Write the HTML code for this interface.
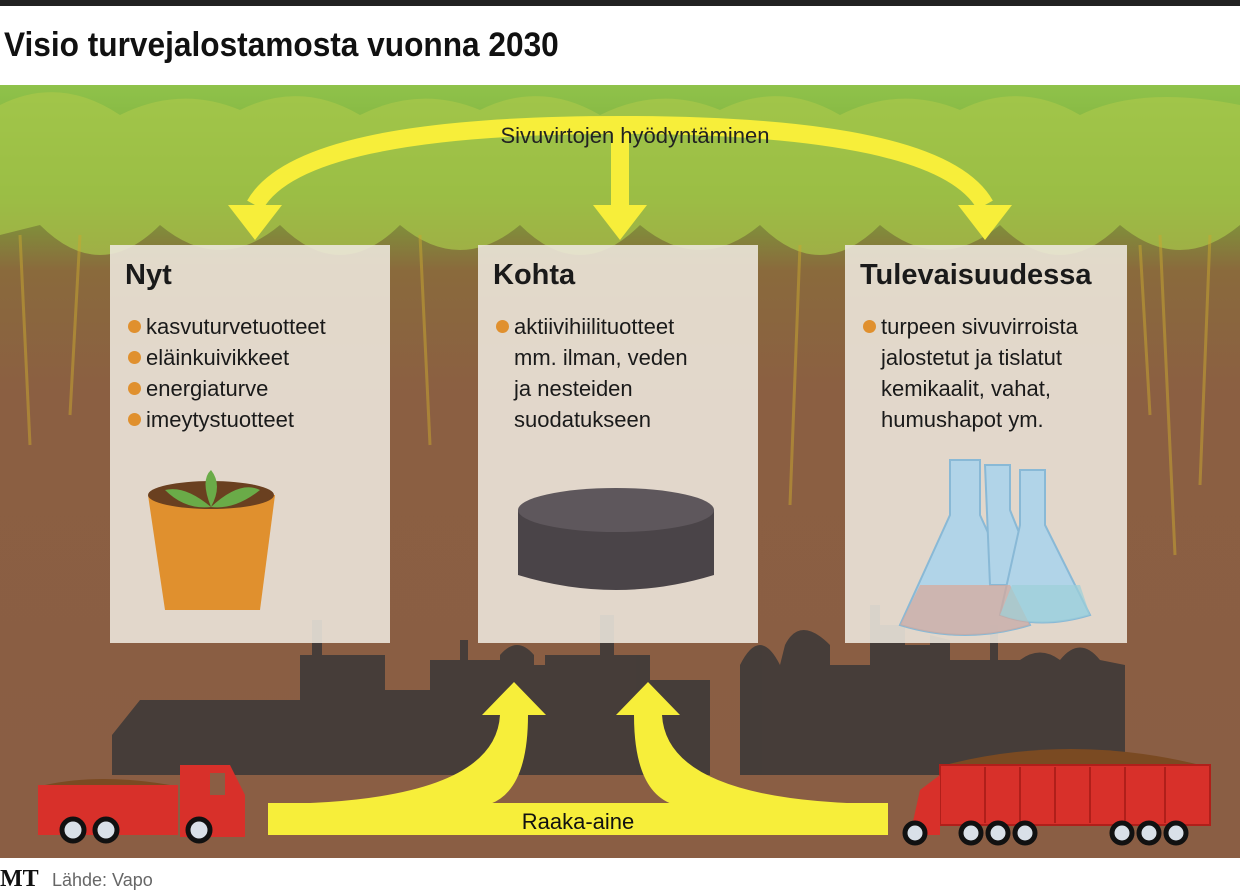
<!DOCTYPE html>
<html><head><meta charset="utf-8"><style>
body{margin:0;width:1240px;height:895px;overflow:hidden;background:#fff;font-family:"Liberation Sans","DejaVu Sans",sans-serif;position:relative}
.box{position:absolute;top:245px;height:398px;width:280px;background:rgba(238,232,222,0.88)}
.box h2{margin:0;position:absolute;left:15px;top:14px;font-size:29px;font-weight:bold;color:#1a1a1a}
.box ul{list-style:none;margin:0;padding:0;position:absolute;left:18px;top:66px;font-size:22px;line-height:31px;color:#1a1a1a}
.box li{position:relative;padding-left:18px}
.dot{position:absolute;left:0;top:9px;width:13px;height:13px;border-radius:50%;background:#e0902e}
</style></head><body>
<div style="position:absolute;left:0;top:0;width:1240px;height:6px;background:#222"></div>
<div style="position:absolute;left:4px;top:26px;font-size:34px;font-weight:bold;color:#111;transform:scaleX(0.93);transform-origin:left">Visio turvejalostamosta vuonna 2030</div>
<svg style="position:absolute;left:0;top:85px" width="1240" height="773">
<defs>
<linearGradient id="bg" x1="0" y1="0" x2="0" y2="1">
<stop offset="0" stop-color="#8fc24a"/><stop offset="0.14" stop-color="#7aa83a"/><stop offset="0.24" stop-color="#8a6a3c"/><stop offset="0.4" stop-color="#8b5f42"/><stop offset="1" stop-color="#8a5e44"/>
</linearGradient>
</defs>
<rect width="1240" height="773" fill="url(#bg)"/>
<g fill="#a9c84a" opacity="0.7">
<path d="M0 20 Q60 -10 120 30 Q180 0 240 25 Q300 -5 360 30 Q420 0 480 25 Q540 -5 600 30 Q660 0 720 25 Q780 -5 840 30 Q900 0 960 25 Q1020 -5 1080 30 Q1140 0 1240 20 L1240 140 Q1180 190 1120 140 Q1060 200 1000 140 Q940 190 880 140 Q820 200 760 140 Q700 190 640 140 Q580 200 520 140 Q460 190 400 140 Q340 200 280 140 Q220 190 160 140 Q100 200 40 140 L0 150Z"/>
</g>
<g stroke="#c9a830" stroke-width="3" opacity="0.5">
<line x1="20" y1="150" x2="30" y2="360"/><line x1="80" y1="150" x2="70" y2="330"/><line x1="420" y1="150" x2="430" y2="360"/><line x1="800" y1="160" x2="790" y2="420"/><line x1="1160" y1="150" x2="1175" y2="470"/><line x1="1210" y1="150" x2="1200" y2="400"/><line x1="1140" y1="160" x2="1150" y2="330"/>
</g>
<g fill="#3e3a38" opacity="0.9">
<path d="M112 690 L112 650 L140 615 L300 615 L300 570 L312 570 L312 535 L322 535 L322 570 L385 570 L385 605 L430 605 L430 575 L460 575 L460 555 L468 555 L468 575 L500 575 L500 570 Q517 550 534 570 L534 580 L545 580 L545 570 L600 570 L600 530 L614 530 L614 570 L650 570 L650 595 L710 595 L710 690 Z"/>
<path d="M740 690 L740 580 Q760 540 780 580 L785 560 Q800 530 830 560 L830 580 L870 580 L870 520 L880 520 L880 540 L905 540 L905 560 L930 560 L930 550 L950 555 L950 575 L990 575 L990 540 L998 540 L998 575 L1020 575 Q1040 560 1060 575 Q1080 550 1100 575 L1125 580 L1125 690 Z"/>
</g>
<g fill="none" stroke="#f7ee3a" stroke-width="18">
<path d="M255 120 Q300 40 620 40 Q940 40 985 120"/>
<path d="M620 40 L620 120"/>
</g>
<g fill="#f7ee3a">
<polygon points="228,120 282,120 255,155"/><polygon points="593,120 647,120 620,155"/><polygon points="958,120 1012,120 985,155"/>
</g>
<text x="635" y="58" font-size="22" fill="#222" text-anchor="middle" font-family="Liberation Sans">Sivuvirtojen hyödyntäminen</text>
<rect x="268" y="718" width="620" height="32" fill="#f7ee3a"/>
<path id="la" fill="#f7ee3a" d="M268 719 Q495 718 500 630 L482 630 L514 597 L546 630 L528 630 Q528 705 490 719 Z"/>
<path fill="#f7ee3a" transform="translate(1162,0) scale(-1,1)" d="M274 719 Q495 718 500 630 L482 630 L514 597 L546 630 L528 630 Q528 705 490 719 Z"/>
<text x="578" y="744" font-size="22" fill="#111" text-anchor="middle" font-family="Liberation Sans">Raaka-aine</text>
<path fill="#7a4a22" d="M45 700 Q100 688 170 700Z"/>
<rect x="38" y="700" width="140" height="50" fill="#d8302a"/>
<path fill="#d8302a" d="M180 680 L230 680 L245 710 L245 752 L180 752Z"/>
<rect x="210" y="688" width="15" height="22" fill="#8a5e44"/>
<g fill="#d9e0e8" stroke="#111" stroke-width="5"><circle cx="73" cy="745" r="11"/><circle cx="106" cy="745" r="11"/><circle cx="199" cy="745" r="11"/></g>
<path fill="#7a4a22" d="M945 680 Q1070 648 1200 680Z"/>
<rect x="940" y="680" width="270" height="60" fill="#d8302a" stroke="#b01f1a" stroke-width="2"/>
<path fill="#d8302a" d="M920 705 L940 690 L940 750 L910 750Z"/>
<g stroke="#b01f1a" stroke-width="2"><line x1="985" y1="682" x2="985" y2="738"/><line x1="1020" y1="682" x2="1020" y2="738"/><line x1="1055" y1="682" x2="1055" y2="738"/><line x1="1090" y1="682" x2="1090" y2="738"/><line x1="1125" y1="682" x2="1125" y2="738"/><line x1="1165" y1="682" x2="1165" y2="738"/></g>
<g fill="#d9e0e8" stroke="#111" stroke-width="5"><circle cx="915" cy="748" r="10"/><circle cx="971" cy="748" r="10"/><circle cx="998" cy="748" r="10"/><circle cx="1025" cy="748" r="10"/><circle cx="1122" cy="748" r="10"/><circle cx="1149" cy="748" r="10"/><circle cx="1176" cy="748" r="10"/></g>
</svg>
<div class="box" style="left:110px"><h2>Nyt</h2><ul>
<li><span class="dot"></span>kasvuturvetuotteet</li><li><span class="dot"></span>eläinkuivikkeet</li><li><span class="dot"></span>energiaturve</li><li><span class="dot"></span>imeytystuotteet</li></ul>
<svg style="position:absolute;left:35px;top:220px" width="135" height="150">
<path d="M3 30 L130 30 L115 145 L20 145Z" fill="#e0902e"/><ellipse cx="66" cy="30" rx="63" ry="14" fill="#6a4020"/>
<path d="M66 42 Q40 20 20 25 Q40 45 66 42Z M66 42 Q95 15 115 25 Q90 45 66 42Z M66 42 Q55 15 66 5 Q78 20 66 42Z" fill="#6aab48"/></svg>
</div>
<div class="box" style="left:478px"><h2>Kohta</h2><ul>
<li><span class="dot"></span>aktiivihiilituotteet</li><li>mm. ilman, veden</li><li>ja nesteiden</li><li>suodatukseen</li></ul>
<svg style="position:absolute;left:38px;top:240px" width="200" height="120">
<path d="M2 25 L2 90 Q100 120 198 90 L198 25Z" fill="#4a4448"/><ellipse cx="100" cy="25" rx="98" ry="22" fill="#5e575c"/></svg>
</div>
<div class="box" style="left:845px;width:282px"><h2>Tulevaisuudessa</h2><ul>
<li><span class="dot"></span>turpeen sivuvirroista</li><li>jalostetut ja tislatut</li><li>kemikaalit, vahat,</li><li>humushapot ym.</li></ul>
<svg style="position:absolute;left:35px;top:210px" width="230" height="190">
<g fill="#a9d4ee" stroke="#7ab4d8" stroke-width="2" opacity="0.85">
<path d="M70 5 L100 5 L100 60 L150 170 Q85 190 20 170 L70 60Z"/>
<path d="M105 10 L130 10 L130 55 L160 130 L110 130 Z"/>
<path d="M140 15 L165 15 L165 70 L210 160 Q160 175 120 160 L140 70Z"/>
</g>
<path d="M40 130 L130 130 L150 170 Q85 190 20 170Z" fill="#d8a898" opacity="0.7"/>
<path d="M132 130 L200 130 L210 160 Q160 175 120 160Z" fill="#9cd0d8" opacity="0.7"/>
</svg>
</div>
<div style="position:absolute;left:0;top:866px;font-family:'Liberation Serif',serif;font-size:24px;font-weight:bold;color:#111">MT</div>
<div style="position:absolute;left:52px;top:870px;font-size:18px;color:#666">Lähde: Vapo</div>
</body></html>
